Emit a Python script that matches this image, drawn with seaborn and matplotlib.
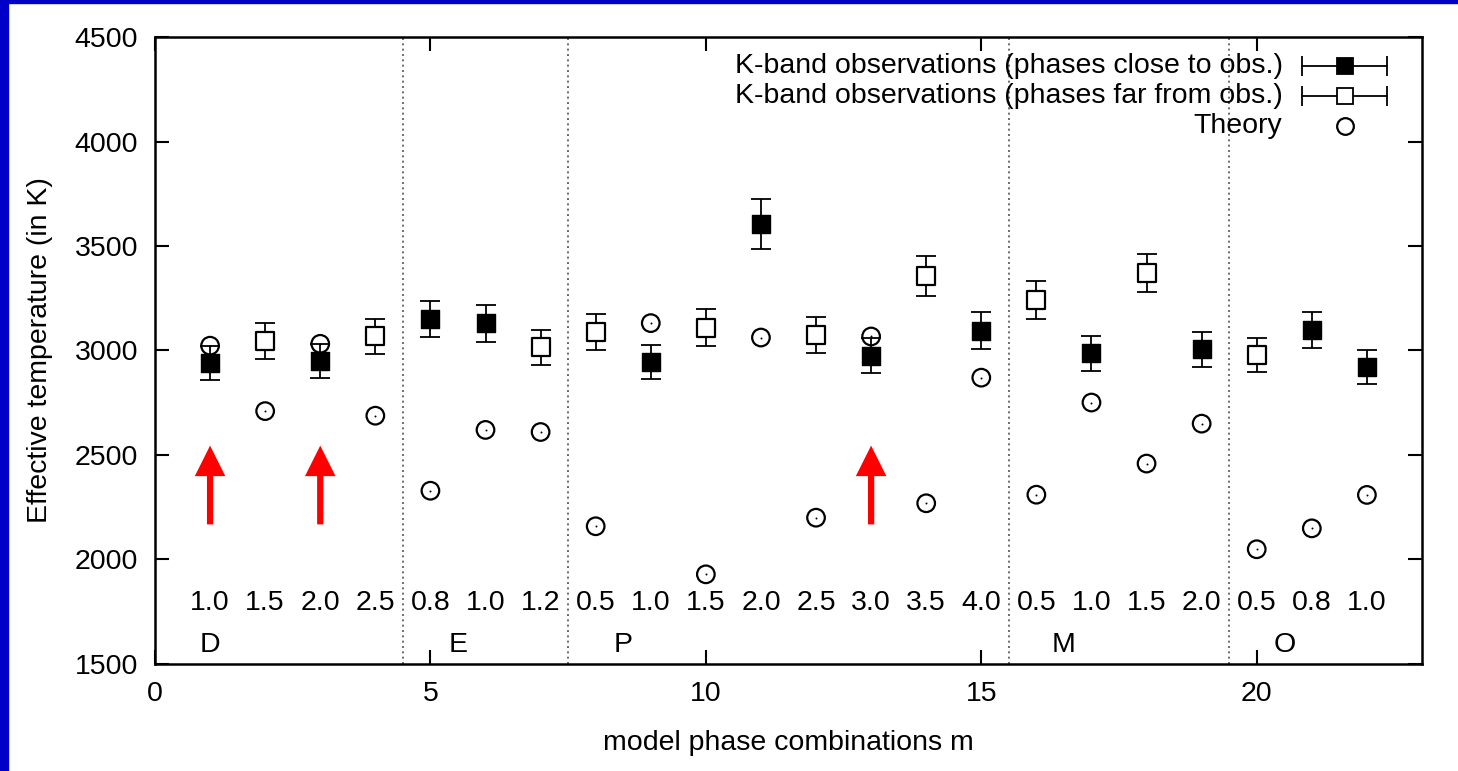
import matplotlib
matplotlib.use("Agg")
import matplotlib.pyplot as plt
import seaborn as sns
import pandas as pd
from matplotlib.patches import Rectangle

# ---------------- data ----------------
close_x = [1, 3, 5, 6, 9, 11, 13, 15, 17, 19, 21, 22]
close_T = [2940, 2950, 3150, 3130, 2946, 3605, 2975, 3095, 2987, 3005, 3098, 2920]
close_err = [80, 80, 87, 87, 80, 118, 83, 87, 84, 84, 87, 80]

far_x = [2, 4, 7, 8, 10, 12, 14, 16, 18, 20]
far_T = [3045, 3067, 3015, 3087, 3110, 3074, 3356, 3242, 3370, 2978]
far_err = [85, 85, 83, 86, 87, 86, 94, 90, 92, 82]

theory_x = list(range(1, 23))
theory_T = [3023, 2710, 3032, 2688, 2329, 2620, 2610, 2159, 3131, 1929, 3062,
            2200, 3067, 2269, 2870, 2310, 2751, 2459, 2650, 2049, 2149, 2309]

m_labels = ["1.0", "1.5", "2.0", "2.5", "0.8", "1.0", "1.2", "0.5", "1.0", "1.5",
            "2.0", "2.5", "3.0", "3.5", "4.0", "0.5", "1.0", "1.5", "2.0", "0.5",
            "0.8", "1.0"]
m_label_y = 1792
groups = ["D", "E", "P", "M", "O"]
group_x = [1, 5.5, 8.5, 16.5, 20.5]
group_y = 1591
boundaries = [4.5, 7.5, 15.5, 19.5]
arrow_x = [1, 3, 13]
arrow_from, arrow_to = 2168, 2545

legend_labels = ["K-band observations (phases close to obs.)",
                 "K-band observations (phases far from obs.)",
                 "Theory"]

# ---------------- style ----------------
sns.set_style("ticks")
plt.rcParams["font.family"] = ["Liberation Sans", "DejaVu Sans"]
plt.rcParams["text.color"] = "black"
plt.rcParams["axes.labelcolor"] = "black"
plt.rcParams["xtick.color"] = "black"
plt.rcParams["ytick.color"] = "black"
FS = 20.5

fig = plt.figure(figsize=(14.58, 7.71), dpi=100)
ax = fig.add_axes([0.1063, 0.1388, 0.869, 0.8132])

# blue frame of the slide
blue = "#0000C8"
fig.patches.append(Rectangle((0, 0), 8 / 1458, 1, transform=fig.transFigure, color=blue, zorder=0))
fig.patches.append(Rectangle((0, 1 - 3 / 771), 1, 3 / 771, transform=fig.transFigure, color=blue, zorder=0))

df_close = pd.DataFrame({"m": close_x, "T": close_T})
df_far = pd.DataFrame({"m": far_x, "T": far_T})
df_th = pd.DataFrame({"m": theory_x, "T": theory_T})

# boundaries
for b in boundaries:
    ax.axvline(b, color="#555555", lw=1.2, ls=(0, (1.2, 2.0)), zorder=1)

# error bars
ax.errorbar(close_x, close_T, yerr=close_err, fmt="none", ecolor="black",
            elinewidth=1.3, capsize=7.5, capthick=1.3, zorder=2)
ax.errorbar(far_x, far_T, yerr=far_err, fmt="none", ecolor="black",
            elinewidth=1.3, capsize=7.5, capthick=1.3, zorder=2)

# markers
sns.scatterplot(data=df_th, x="m", y="T", ax=ax, marker="o", s=160,
                facecolor="none", edgecolor="black", linewidth=1.6, zorder=3, legend=False)
sns.scatterplot(data=df_th, x="m", y="T", ax=ax, marker="o", s=2,
                color="black", linewidth=0, zorder=3, legend=False)
sns.scatterplot(data=df_far, x="m", y="T", ax=ax, marker="s", s=150,
                facecolor="white", edgecolor="black", linewidth=1.6, zorder=4, legend=False)
sns.scatterplot(data=df_close, x="m", y="T", ax=ax, marker="s", s=150,
                color="black", edgecolor="black", linewidth=1.0, zorder=5, legend=False)

# in-plot labels
for xi, lab in zip(theory_x, m_labels):
    ax.text(xi, m_label_y, lab, ha="center", va="center", fontsize=FS)
for gx, g in zip(group_x, groups):
    ax.text(gx, group_y, g, ha="center", va="center", fontsize=FS)

# red arrows
for axx in arrow_x:
    ax.annotate("", xy=(axx, arrow_to), xytext=(axx, arrow_from),
                arrowprops=dict(arrowstyle="simple,head_width=22,head_length=22,tail_width=4.5",
                                mutation_scale=1, color="red", lw=0,
                                shrinkA=0, shrinkB=0), zorder=6)

# legend (gnuplot style, drawn by hand)
ty = [0.954, 0.906, 0.858]
for y, lab in zip(ty, legend_labels):
    ax.text(0.890, y, lab, transform=ax.transAxes, ha="right", va="center", fontsize=FS)
for y, filled in zip(ty[:2], [True, False]):
    ax.plot([0.905, 0.972], [y, y], transform=ax.transAxes, color="black", lw=1.3, zorder=5)
    ax.plot([0.905, 0.972], [y, y], transform=ax.transAxes, ls="none", marker="|",
            ms=15, mew=1.3, color="black", zorder=5)
    ax.plot([0.939], [y], transform=ax.transAxes, ls="none", marker="s", ms=12,
            mfc="black" if filled else "white", mec="black", mew=1.3, zorder=6)
ax.plot([0.939], [ty[2]], transform=ax.transAxes, ls="none", marker="o", ms=12,
        mfc="none", mec="black", mew=1.6, zorder=6)

# axes
ax.set_xlim(0, 23)
ax.set_ylim(1500, 4500)
ax.set_xticks([0, 5, 10, 15, 20])
ax.set_yticks([1500, 2000, 2500, 3000, 3500, 4000, 4500])
ax.tick_params(direction="in", length=10, width=1.5, labelsize=FS, pad=12,
               top=True, right=True, color="black", labelcolor="black")
for s in ax.spines.values():
    s.set_linewidth(1.8)
    s.set_color("black")
ax.set_xlabel("model phase combinations m", fontsize=FS, labelpad=17)
ax.set_ylabel("Effective temperature (in K)", fontsize=FS, labelpad=16)

fig.savefig("out.png", dpi=100, facecolor="white")
